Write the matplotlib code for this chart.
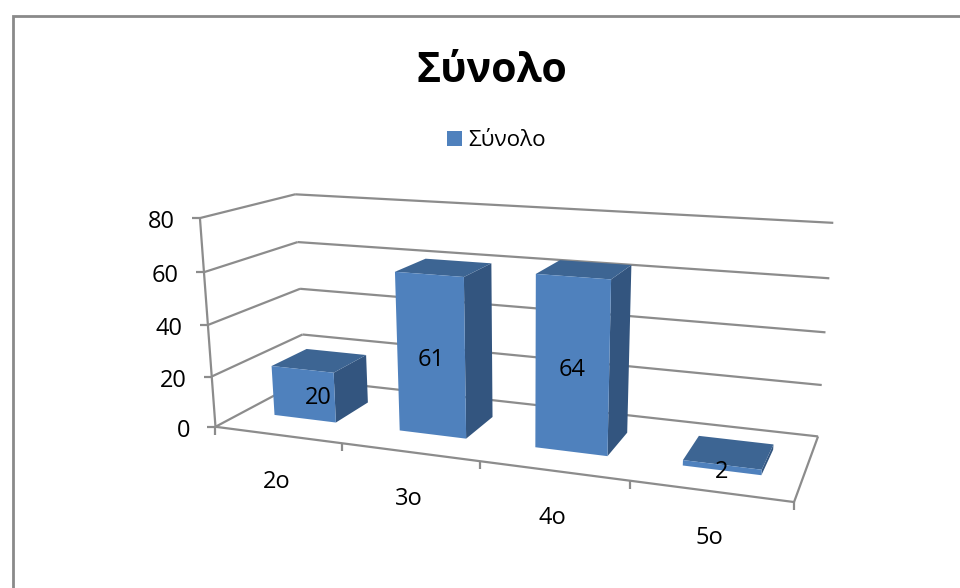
#!/usr/bin/env python3
import matplotlib
matplotlib.use("Agg")
import matplotlib.pyplot as plt
import numpy as np
from matplotlib.patches import Polygon

CATEGORIES = ["2ο", "3ο", "4ο", "5ο"]
VALUES = [20, 61, 64, 2]
Y_TICKS = [0, 20, 40, 60, 80]
SERIES_NAME = "Σύνολο"

FRONT = "#4F81BD"
SIDE = "#33557F"
TOP = "#3D6593"
LINE = "#8C8C8C"

BAR_HALF = 0.25
BAR_D0 = 0.30
BAR_D1 = 0.70
N = len(CATEGORIES)
VMAX = Y_TICKS[-1]

# camera calibration: (category pos, depth, value) -> canvas pixel
CALIB = [
    (0, 0, 0, 216, 427), (0, 0, 20, 211.7, 376.7), (0, 0, 40, 208.3, 325),
    (0, 0, 60, 203.3, 271.7), (0, 0, 80, 200, 218.3),
    (0, 1, 20, 302.3, 334.7), (0, 1, 40, 300, 288.7),
    (0, 1, 60, 297.3, 242), (0, 1, 80, 295.7, 194.3),
    (4, 1, 0, 818, 436.3), (4, 1, 20, 822, 385), (4, 1, 40, 825.3, 332.3),
    (4, 1, 60, 829.3, 278.3), (4, 1, 80, 833.3, 223),
    (4, 0, 0, 794, 502), (1, 0, 0, 341.7, 443), (2, 0, 0, 480, 461), (3, 0, 0, 630, 481),
]


def fit_camera(points):
    rows = []
    for u, d, v, px, py in points:
        X = [u, d, v / VMAX, 1.0]
        rows.append(X + [0, 0, 0, 0] + [-px / 1000 * c for c in X])
        rows.append([0, 0, 0, 0] + X + [-py / 1000 * c for c in X])
    _, _, vt = np.linalg.svd(np.array(rows))
    return vt[-1].reshape(3, 4)


CAM = fit_camera(CALIB)


def project(u, d, v):
    p = CAM @ np.array([u, d, v / VMAX, 1.0])
    return p[0] / p[2] * 1000, p[1] / p[2] * 1000


fig = plt.figure(figsize=(9.6, 5.88), dpi=100)
ax = fig.add_axes([0, 0, 1, 1])
ax.set_xlim(0, 960)
ax.set_ylim(588, 0)
ax.axis("off")
plt.rcParams["font.family"] = ["Open Sans", "DejaVu Sans"]


def seg(a, b, lw=1.6, color=LINE, z=1):
    ax.plot([a[0], b[0]], [a[1], b[1]], color=color, lw=lw, zorder=z, solid_capstyle="butt")


# chart border, open towards right and bottom
ax.plot([13, 13, 960], [588, 16, 16], color="#8A8A8A", lw=2.0, solid_joinstyle="miter")

# gridlines on side and back walls
for t in Y_TICKS:
    front, back, right = project(0, 0, t), project(0, 1, t), project(N, 1, t)
    seg(front, back)
    seg(back, right)
    seg(front, (front[0] - 8, front[1]))
    ax.text(front[0] - 25, front[1] + 4, str(t), ha="right", va="center", fontsize=17, color="black")

# axis lines and floor
seg(project(0, 0, 0), project(0, 0, VMAX))
seg(project(0, 0, 0), project(N, 0, 0))
seg(project(N, 0, 0), project(N, 1, 0))
for i in range(N + 1):
    base = project(i, 0, 0)
    seg(base, (base[0], base[1] + 8))

for i, (name, val) in enumerate(zip(CATEGORIES, VALUES)):
    c = i + 0.5
    u0, u1 = c - BAR_HALF, c + BAR_HALF
    p = lambda u, d, v: project(u, d, v)
    ax.add_patch(Polygon([p(u1, BAR_D0, 0), p(u1, BAR_D1, 0), p(u1, BAR_D1, val), p(u1, BAR_D0, val)],
                         facecolor=SIDE, edgecolor="none", zorder=3))
    ax.add_patch(Polygon([p(u0, BAR_D0, val), p(u1, BAR_D0, val), p(u1, BAR_D1, val), p(u0, BAR_D1, val)],
                         facecolor=TOP, edgecolor="none", zorder=3))
    ax.add_patch(Polygon([p(u0, BAR_D0, 0), p(u1, BAR_D0, 0), p(u1, BAR_D0, val), p(u0, BAR_D0, val)],
                         facecolor=FRONT, edgecolor="none", zorder=4))
    # value label sits on the front face, first one shifted towards the bar's middle
    lx, ly = p(c, BAR_D0, val / 2)
    ax.text(lx + (15 if i == 0 else 0), ly + 4, str(val), ha="center", va="center",
            fontsize=17, color="black", zorder=5)
    bx, by = project(c, 0, 0)
    ax.text(bx - 1, by + 47, name, ha="center", va="center", fontsize=17, color="black")

ax.text(492, 72, SERIES_NAME, ha="center", va="center", fontsize=29.5, fontweight="bold", color="black")
ax.add_patch(Polygon([(447, 131), (462, 131), (462, 146), (447, 146)], facecolor=FRONT, edgecolor="none"))
ax.text(468, 140, SERIES_NAME, ha="left", va="center", fontsize=16.2, color="black")

fig.savefig("out.png", dpi=100)
